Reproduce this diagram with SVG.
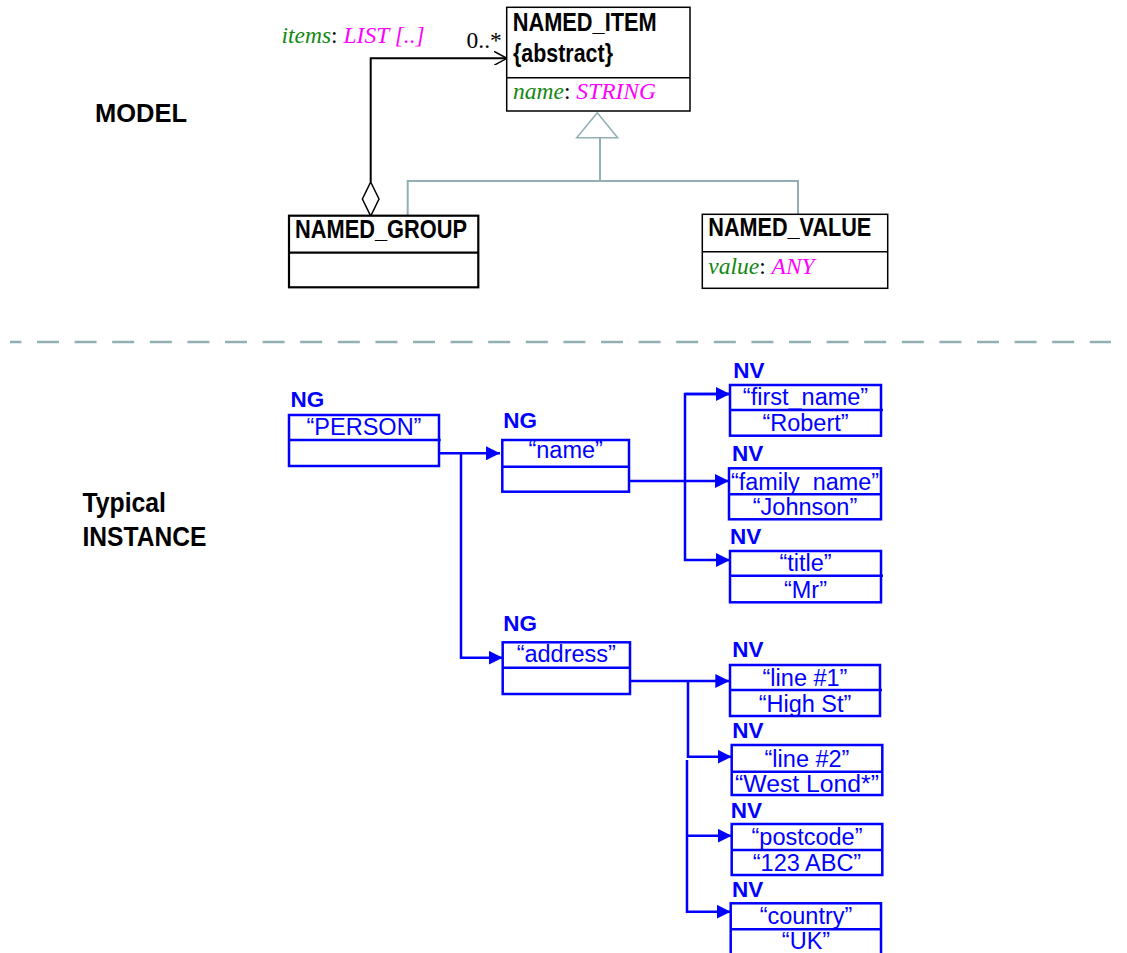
<svg xmlns="http://www.w3.org/2000/svg" width="1127" height="953" viewBox="0 0 1127 953">
<style>
.hd{font-family:"Liberation Sans",Arial,sans-serif;font-weight:bold;font-size:25px;fill:#000}
.mb{fill:#fff;stroke:#000;stroke-width:1.5}
.mb2{fill:#fff;stroke:#000;stroke-width:2.2}
.attr{font-family:"Liberation Serif","Times New Roman",serif;font-size:23.5px}
.g{fill:#118811;font-style:italic}
.m{fill:#ff00ff;font-style:italic}
.k{fill:#000}
.ib{fill:#fff;stroke:#0000ff;stroke-width:2.5}
.il{fill:none;stroke:#0000ff;stroke-width:2.5}
.lab{font-family:"Liberation Sans",Arial,sans-serif;font-weight:bold;font-size:22.5px;fill:#0000ff}
.val{font-family:"Liberation Sans",Arial,sans-serif;font-size:23.5px;fill:#0000ff;text-anchor:middle}
.gen{fill:none;stroke:#92afb3;stroke-width:2}
.big{font-family:"Liberation Sans",Arial,sans-serif;font-weight:bold;fill:#000}
</style>
<defs>
<marker id="tri" viewBox="0 0 14 14" refX="14" refY="7" markerWidth="14" markerHeight="14" markerUnits="userSpaceOnUse" orient="auto">
<path d="M0,0 L14,7 L0,14 Z" fill="#0000ff"/>
</marker>
<marker id="open" viewBox="0 0 14 14" refX="13" refY="7" markerWidth="14" markerHeight="14" markerUnits="userSpaceOnUse" orient="auto">
<path d="M0,0 L13,7 L0,14" fill="none" stroke="#000" stroke-width="1.5"/>
</marker>
</defs>
<rect width="1127" height="953" fill="#fff"/>

<text class="big" x="95" y="121.5" font-size="25.5">MODEL</text>
<text class="big" x="82.5" y="511.5" font-size="28" textLength="83.5" lengthAdjust="spacingAndGlyphs">Typical</text>
<text class="big" x="82.5" y="545.5" font-size="28" textLength="124" lengthAdjust="spacingAndGlyphs">INSTANCE</text>

<line x1="10" y1="342" x2="1111" y2="342" stroke="#92afb3" stroke-width="2.5" stroke-dasharray="22 15.6" stroke-dashoffset="10.6"/>

<g id="connectors">
<path d="M370.7,182 V58.3 H507" fill="none" stroke="#000" stroke-width="2" marker-end="url(#open)"/>
<path d="M370.7,182 L379,199 L370.7,216 L362.4,199 Z" fill="#fff" stroke="#000" stroke-width="1.5"/>
<path class="gen" d="M407.7,215.7 V181 H798 V214.3 M600,181 V137.7"/>
<path d="M597.3,112.7 L617.7,137.7 L576.7,137.7 Z" fill="#fff" stroke="#92afb3" stroke-width="1.5"/>
<text class="attr" x="281.5" y="43.3"><tspan class="g">items</tspan><tspan class="k">: </tspan><tspan class="m">LIST [..]</tspan></text>
<text class="attr k" x="466.5" y="48.3">0..*</text>
<path class="il" d="M419.3,453.3 H500" marker-end="url(#tri)"/>
<path class="il" d="M461,453.3 V657.7 H502.7" marker-end="url(#tri)"/>
<path class="il" d="M609.3,481 H729" marker-end="url(#tri)"/>
<path class="il" d="M730,394 H685 V560 H730" marker-end="url(#tri)"/>
<path class="il" d="M685,394 H730" marker-end="url(#tri)"/>
<path class="il" d="M609.3,681 H729.3" marker-end="url(#tri)"/>
<path class="il" d="M688,681 V756.7 H731.7" marker-end="url(#tri)"/>
<path class="il" d="M687,760 V911.7 H730.7" marker-end="url(#tri)"/>
<path class="il" d="M687,835.7 H731.7" marker-end="url(#tri)"/>
</g>

<g id="named_item">
<rect class="mb" x="506.7" y="7.3" width="183.3" height="103.7"/>
<line x1="506.7" y1="77.7" x2="690" y2="77.7" stroke="#000" stroke-width="1.5"/>
<text class="hd" x="512.7" y="30.7" textLength="144" lengthAdjust="spacingAndGlyphs">NAMED_ITEM</text>
<text class="hd" x="513" y="61.5" textLength="100" lengthAdjust="spacingAndGlyphs">{abstract}</text>
<text class="attr" x="513" y="99"><tspan class="g">name</tspan><tspan class="k">: </tspan><tspan class="m">STRING</tspan></text>
</g>

<g id="named_group">
<rect class="mb2" x="289" y="215.7" width="189.3" height="71.6"/>
<line x1="289" y1="252.7" x2="478.3" y2="252.7" stroke="#000" stroke-width="2.2"/>
<text class="hd" x="295" y="238.3" textLength="172" lengthAdjust="spacingAndGlyphs">NAMED_GROUP</text>
</g>

<g id="named_value">
<rect class="mb" x="702.3" y="214.3" width="185.4" height="74"/>
<line x1="702.3" y1="251.7" x2="887.7" y2="251.7" stroke="#000" stroke-width="1.5"/>
<text class="hd" x="708.3" y="236" textLength="163" lengthAdjust="spacingAndGlyphs">NAMED_VALUE</text>
<text class="attr" x="708.3" y="274"><tspan class="g">value</tspan><tspan class="k">: </tspan><tspan class="m">ANY</tspan></text>
</g>

<g id="ng_person">
<text class="lab" x="290.5" y="406.5">NG</text>
<rect class="ib" x="289" y="415" width="150" height="51"/>
<line class="il" x1="289" y1="440" x2="440.7" y2="440"/>
<text class="val" x="364" y="435">“PERSON”</text>
</g>

<g id="ng_name">
<text class="lab" x="503.3" y="428.3">NG</text>
<rect class="ib" x="502.3" y="440" width="126.7" height="51.7"/>
<line class="il" x1="502.3" y1="466.7" x2="629" y2="466.7"/>
<text class="val" x="565.7" y="457.5">“name”</text>
</g>

<g id="nv_first_name">
<text class="lab" x="733.3" y="377.7">NV</text>
<rect class="ib" x="730" y="385" width="151" height="50.7"/>
<line class="il" x1="730" y1="410" x2="883" y2="410"/>
<text class="val" x="805.5" y="405">“first_name”</text>
<text class="val" x="805.5" y="431">“Robert”</text>
</g>

<g id="nv_family_name">
<text class="lab" x="732" y="461">NV</text>
<rect class="ib" x="729" y="468.3" width="152" height="51"/>
<line class="il" x1="729" y1="494.3" x2="881" y2="494.3"/>
<text class="val" x="805" y="489.5" textLength="148" lengthAdjust="spacingAndGlyphs">“family_name”</text>
<text class="val" x="805" y="514.5">“Johnson”</text>
</g>

<g id="nv_title">
<text class="lab" x="730" y="544.3">NV</text>
<rect class="ib" x="730" y="551" width="151" height="51.3"/>
<line class="il" x1="730" y1="575.7" x2="883" y2="575.7"/>
<text class="val" x="805.5" y="571">“title”</text>
<text class="val" x="805.5" y="597.5">“Mr”</text>
</g>

<g id="ng_address">
<text class="lab" x="503.3" y="630.7">NG</text>
<rect class="ib" x="502.7" y="642.3" width="127.3" height="51.7"/>
<line class="il" x1="502.7" y1="667.7" x2="630" y2="667.7"/>
<text class="val" x="566.3" y="661.5">“address”</text>
</g>

<g id="nv_line1">
<text class="lab" x="732.3" y="656.7">NV</text>
<rect class="ib" x="730" y="665" width="150" height="51"/>
<line class="il" x1="730" y1="690" x2="882" y2="690"/>
<text class="val" x="805" y="685.5">“line #1”</text>
<text class="val" x="805" y="711.5">“High St”</text>
</g>

<g id="nv_line2">
<text class="lab" x="732.3" y="738.3">NV</text>
<rect class="ib" x="731.7" y="745" width="150.6" height="50"/>
<line class="il" x1="731.7" y1="771.7" x2="882.3" y2="771.7"/>
<text class="val" x="807" y="766.5">“line #2”</text>
<text class="val" x="807" y="791.5" textLength="144" lengthAdjust="spacingAndGlyphs">“West Lond*”</text>
</g>

<g id="nv_postcode">
<text class="lab" x="730.7" y="818.3">NV</text>
<rect class="ib" x="731.7" y="824" width="150.6" height="51"/>
<line class="il" x1="731.7" y1="850" x2="882.3" y2="850"/>
<text class="val" x="807" y="845">“postcode”</text>
<text class="val" x="807" y="870.5">“123 ABC”</text>
</g>

<g id="nv_country">
<text class="lab" x="732" y="896.7">NV</text>
<rect class="ib" x="730.7" y="903.3" width="150.3" height="60"/>
<line class="il" x1="730.7" y1="929.3" x2="881" y2="929.3"/>
<text class="val" x="806" y="924">“country”</text>
<text class="val" x="806" y="949">“UK”</text>
</g>
</svg>
